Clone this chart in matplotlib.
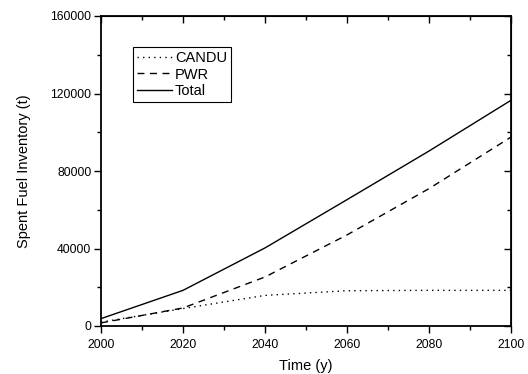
import numpy as np
import matplotlib
matplotlib.use("Agg")
import matplotlib.pyplot as plt
from matplotlib.ticker import MultipleLocator

plt.rcParams['font.family'] = ['Liberation Sans', 'DejaVu Sans']

years = [2000, 2020, 2040, 2060, 2080, 2100]
candu = [2000, 9000, 15800, 18200, 18400, 18400]
pwr = [1600, 9300, 25300, 47000, 70900, 97500]
total = [3800, 18400, 40300, 65200, 90300, 116500]

fig = plt.figure(figsize=(5.28, 3.74), dpi=100)
ax = fig.add_axes([101/528, 1-326/374, 410/528, 310/374])

ax.plot(years, candu, color='black', lw=1.0, linestyle=(0, (1, 3)), label='CANDU')
ax.plot(years, pwr, color='black', lw=1.0, linestyle=(0, (5, 4)), label='PWR')
ax.plot(years, total, color='black', lw=1.0, linestyle='-', label='Total')

ax.set_xlim(2000, 2100)
ax.set_ylim(0, 160000)
ax.xaxis.set_major_locator(MultipleLocator(20))
ax.xaxis.set_minor_locator(MultipleLocator(10))
ax.yaxis.set_major_locator(MultipleLocator(40000))
ax.yaxis.set_minor_locator(MultipleLocator(20000))
ax.tick_params(which='major', direction='out', length=5, width=1.0, labelsize=8.8, pad=2)
ax.tick_params(axis='x', which='major', pad=4)
ax.tick_params(which='minor', direction='out', length=3, width=1.0)
for s in ax.spines.values():
    s.set_linewidth(1.3)

# mirrored inward ticks on top and right
top = ax.secondary_xaxis('top')
top.xaxis.set_major_locator(MultipleLocator(20))
top.xaxis.set_minor_locator(MultipleLocator(10))
top.tick_params(which='major', direction='in', length=5, width=1.0, labeltop=False)
top.tick_params(which='minor', direction='in', length=3, width=1.0)
right = ax.secondary_yaxis('right')
right.yaxis.set_major_locator(MultipleLocator(40000))
right.yaxis.set_minor_locator(MultipleLocator(20000))
right.tick_params(which='major', direction='in', length=5, width=1.0, labelright=False)
right.tick_params(which='minor', direction='in', length=3, width=1.0)

ax.set_xlabel('Time (y)', fontsize=10.5, labelpad=6)
ax.set_ylabel('Spent Fuel Inventory (t)', fontsize=10.5, labelpad=14)

leg = ax.legend(loc='upper left', bbox_to_anchor=(0.077, 0.9), fontsize=10.5,
                frameon=True, fancybox=False, edgecolor='black', framealpha=1,
                handlelength=2.4, handletextpad=0.2, borderpad=0.3,
                labelspacing=0.15, borderaxespad=0)
leg.get_frame().set_linewidth(0.8)

fig.savefig('out.png', dpi=100)
